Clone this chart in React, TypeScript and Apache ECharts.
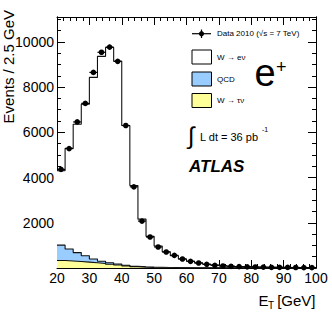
import React, { useEffect, useRef } from "react";
import * as echarts from "echarts";

// Bin low edges (GeV), bin width 2.5 GeV
const binStarts = [
  20, 22.5, 25, 27.5, 30, 32.5, 35, 37.5, 40, 42.5, 45, 47.5, 50, 52.5, 55, 57.5,
  60, 62.5, 65, 67.5, 70, 72.5, 75, 77.5, 80, 82.5, 85, 87.5, 90, 92.5, 95, 97.5,
];
const binWidth = 2.5;

// Data 2010
const dataCounts = [
  4360, 5280, 6460, 7280, 8650, 9540, 9770, 9140, 6300, 3590, 2075, 1370, 930, 706, 560, 400,
  296, 220, 162, 118, 88, 74, 59, 52, 44, 40, 30, 28, 25, 22, 19, 17,
];
// W -> e nu (signal MC)
const wenu = [
  3290, 4450, 5680, 6700, 8030, 9060, 9520, 8960, 6180, 3570, 2105, 1360, 940, 698, 524, 388,
  290, 217, 158, 119, 90, 71, 56, 47, 39, 34, 29, 25, 22, 20, 17, 15,
];
// QCD background
const qcd = [
  680, 530, 395, 280, 170, 100, 65, 50, 25, 20, 20, 20, 18, 14, 11, 8,
  7, 6, 5, 5, 4, 3, 3, 2, 2, 2, 2, 2, 2, 1, 1, 1,
];
// W -> tau nu background
const wtau = [
  330, 310, 285, 260, 230, 200, 165, 130, 95, 60, 35, 20, 12, 8, 5, 4,
  3, 2, 2, 1, 1, 1, 1, 1, 1, 0, 0, 0, 0, 0, 0, 0,
];

const xTicks = { min: 20, max: 100, interval: 10 };
const yTicks = { min: 0, max: 11100, major: 2000, minor: 500 };

const FONT = "Liberation Sans, Arial, Helvetica, sans-serif";

function stepPoints(vals: number[]) {
  const pts = vals.map((v, i) => [binStarts[i], v]);
  const last = vals.length - 1;
  pts.push([binStarts[last] + binWidth, vals[last]]);
  return pts;
}

export default function App() {
  const ref = useRef<HTMLDivElement>(null);

  useEffect(() => {
    if (!ref.current) return;
    const chart = echarts.init(ref.current, null, { renderer: "svg" });

    const bgTau = wtau.slice();
    const bgQcd = wtau.map((v, i) => v + qcd[i]);
    const total = wtau.map((v, i) => v + qcd[i] + wenu[i]);

    const axisLine = { show: true, onZero: false, lineStyle: { color: "#000", width: 1 } };

    const xAxisCommon = (pos: "bottom" | "top", showLabel: boolean) => ({
      type: "value",
      position: pos,
      min: xTicks.min,
      max: xTicks.max,
      interval: xTicks.interval,
      axisLine,
      axisTick: { show: true, inside: true, length: 8, lineStyle: { color: "#000", width: 1 } },
      minorTick: { show: true, splitNumber: 5, length: 4, lineStyle: { color: "#000", width: 1 } },
      axisLabel: {
        show: showLabel,
        fontSize: 14,
        color: "#000",
        fontFamily: FONT,
        margin: 3,
        formatter: (v: number) => String(v),
      },
      splitLine: { show: false },
      minorSplitLine: { show: false },
    });

    const yAxisCommon = (pos: "left" | "right", major: boolean, showLabel: boolean) => ({
      type: "value",
      position: pos,
      min: yTicks.min,
      max: yTicks.max,
      interval: major ? yTicks.major : yTicks.minor,
      axisLine,
      axisTick: {
        show: true,
        inside: true,
        length: major ? 8 : 4,
        lineStyle: { color: "#000", width: 1 },
      },
      axisLabel: {
        show: showLabel,
        fontSize: 14,
        color: "#000",
        fontFamily: FONT,
        margin: 3,
        showMinLabel: false,
        showMaxLabel: false,
        formatter: (v: number) => String(v),
      },
      splitLine: { show: false },
    });

    const histLine = { color: "#111", width: 1.1 };

    const option: any = {
      animation: false,
      backgroundColor: "#fff",
      grid: { left: 57, right: 16, top: 17, bottom: 51, containLabel: false },
      xAxis: [xAxisCommon("bottom", true), xAxisCommon("top", false)],
      yAxis: [
        yAxisCommon("left", true, true),
        yAxisCommon("left", false, false),
        yAxisCommon("right", true, false),
        yAxisCommon("right", false, false),
      ],
      series: [
        {
          name: "W → eν",
          type: "line",
          step: "end",
          symbol: "none",
          data: stepPoints(total),
          lineStyle: histLine,
          areaStyle: { color: "#ffffff", opacity: 1 },
          z: 2,
        },
        {
          name: "QCD",
          type: "line",
          step: "end",
          symbol: "none",
          data: stepPoints(bgQcd),
          lineStyle: histLine,
          areaStyle: { color: "#99ccff", opacity: 1 },
          z: 3,
        },
        {
          name: "W → τν",
          type: "line",
          step: "end",
          symbol: "none",
          data: stepPoints(bgTau),
          lineStyle: histLine,
          areaStyle: { color: "#ffff99", opacity: 1 },
          z: 4,
        },
        {
          name: "Data 2010",
          type: "custom",
          z: 10,
          data: binStarts.map((x, i) => [x, x + binWidth, dataCounts[i], Math.sqrt(dataCounts[i])]),
          encode: { x: [0, 1], y: 2 },
          renderItem: (_params: any, api: any) => {
            const lo = api.value(0);
            const hi = api.value(1);
            const v = api.value(2);
            const e = api.value(3);
            const mid = (lo + hi) / 2;
            const p1 = api.coord([lo, v]);
            const p2 = api.coord([hi, v]);
            const c = api.coord([mid, v]);
            const t = api.coord([mid, v + e]);
            const b = api.coord([mid, Math.max(0, v - e)]);
            return {
              type: "group",
              children: [
                {
                  type: "line",
                  shape: { x1: p1[0], y1: p1[1], x2: p2[0], y2: p2[1] },
                  style: { stroke: "#000", lineWidth: 1.2 },
                },
                {
                  type: "line",
                  shape: { x1: t[0], y1: t[1], x2: b[0], y2: b[1] },
                  style: { stroke: "#000", lineWidth: 1.2 },
                },
                {
                  type: "circle",
                  shape: { cx: c[0], cy: c[1], r: 2.8 },
                  style: { fill: "#000" },
                },
              ],
            };
          },
        },
      ],
      graphic: [
        // Y axis title
        {
          type: "text",
          x: 8.5,
          y: 10,
          rotation: Math.PI / 2,
          style: {
            text: "Events / 2.5 GeV",
            fontSize: 15,
            fontFamily: FONT,
            fill: "#000",
            align: "right",
            verticalAlign: "middle",
          },
        },
        // X axis title
        {
          type: "text",
          x: 258.5,
          y: 300.5,
          style: { text: "E", fontSize: 15, fontFamily: FONT, fill: "#000", verticalAlign: "middle" },
        },
        {
          type: "text",
          x: 268,
          y: 305,
          style: { text: "T", fontSize: 10, fontFamily: FONT, fill: "#000", verticalAlign: "middle" },
        },
        {
          type: "text",
          x: 315.5,
          y: 300.5,
          style: {
            text: "[GeV]",
            fontSize: 15,
            fontFamily: FONT,
            fill: "#000",
            align: "right",
            verticalAlign: "middle",
          },
        },
        // Legend: data marker
        {
          type: "line",
          shape: { x1: 192, y1: 33.7, x2: 211, y2: 33.7 },
          style: { stroke: "#000", lineWidth: 1.2 },
        },
        {
          type: "line",
          shape: { x1: 201.5, y1: 29.5, x2: 201.5, y2: 38 },
          style: { stroke: "#000", lineWidth: 1.2 },
        },
        {
          type: "circle",
          shape: { cx: 201.5, cy: 33.7, r: 2.6 },
          style: { fill: "#000" },
        },
        {
          type: "text",
          x: 217,
          y: 33.7,
          style: {
            text: "Data 2010 (√s = 7 TeV)",
            fontSize: 8,
            fontFamily: FONT,
            fill: "#000",
            verticalAlign: "middle",
          },
        },
        // Legend boxes
        {
          type: "rect",
          shape: { x: 192, y: 50, width: 19.5, height: 14 },
          style: { fill: "#ffffff", stroke: "#000", lineWidth: 1 },
        },
        {
          type: "text",
          x: 217,
          y: 57,
          style: { text: "W → eν", fontSize: 8, fontFamily: FONT, fill: "#000", verticalAlign: "middle" },
        },
        {
          type: "rect",
          shape: { x: 192, y: 72, width: 19.5, height: 14 },
          style: { fill: "#99ccff", stroke: "#000", lineWidth: 1 },
        },
        {
          type: "text",
          x: 217,
          y: 79,
          style: { text: "QCD", fontSize: 8, fontFamily: FONT, fill: "#000", verticalAlign: "middle" },
        },
        {
          type: "rect",
          shape: { x: 192, y: 93.5, width: 19.5, height: 14 },
          style: { fill: "#ffff99", stroke: "#000", lineWidth: 1 },
        },
        {
          type: "text",
          x: 217,
          y: 100.5,
          style: { text: "W → τν", fontSize: 8, fontFamily: FONT, fill: "#000", verticalAlign: "middle" },
        },
        // e+
        {
          type: "text",
          x: 254.5,
          y: 73,
          style: { text: "e", fontSize: 38, fontFamily: FONT, fill: "#000", verticalAlign: "middle" },
        },
        {
          type: "text",
          x: 276,
          y: 66.5,
          style: { text: "+", fontSize: 18, fontFamily: FONT, fill: "#000", verticalAlign: "middle" },
        },
        // Luminosity
        {
          type: "text",
          x: 188,
          y: 135.5,
          style: { text: "∫", fontSize: 24, fontFamily: FONT, fill: "#000", verticalAlign: "middle" },
        },
        {
          type: "text",
          x: 200,
          y: 136.8,
          style: {
            text: "L dt = 36 pb",
            fontSize: 11,
            fontFamily: FONT,
            fill: "#000",
            verticalAlign: "middle",
          },
        },
        {
          type: "text",
          x: 262,
          y: 129.5,
          style: { text: "-1", fontSize: 7, fontFamily: FONT, fill: "#000", verticalAlign: "middle" },
        },
        // ATLAS
        {
          type: "text",
          x: 189,
          y: 166,
          style: {
            text: "ATLAS",
            fontSize: 17,
            fontWeight: "bold",
            fontStyle: "italic",
            fontFamily: FONT,
            fill: "#000",
            verticalAlign: "middle",
          },
        },
      ],
    };

    chart.setOption(option);
    return () => chart.dispose();
  }, []);

  return (
    <div
      ref={ref}
      style={{ position: "absolute", left: 0, top: 0, width: 332, height: 319, background: "#fff" }}
    />
  );
}
